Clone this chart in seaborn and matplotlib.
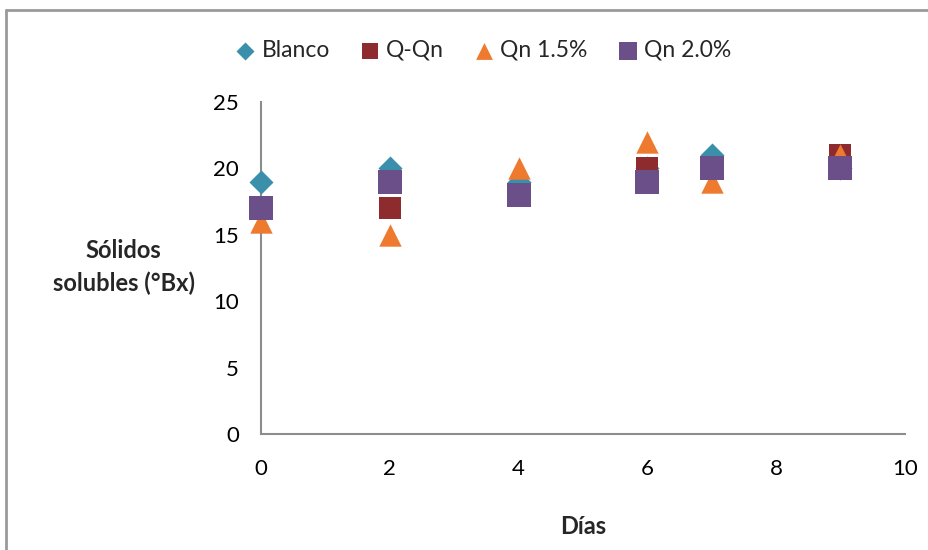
import matplotlib
matplotlib.use("Agg")
import matplotlib.pyplot as plt
from matplotlib.lines import Line2D
import seaborn as sns
import pandas as pd

# Soluble solids (°Bx) measured on each storage day
dias = [0, 2, 4, 6, 7, 9]
blanco = [19, 20, 19, 20, 21, 20]
q_qn = [17, 17, 18, 20, 20, 21]
qn_15 = [16, 15, 20, 22, 19, 21]
qn_20 = [17, 19, 18, 19, 20, 20]

series = [
    ("Blanco", blanco, "D", "#3A8FAA", 150),
    ("Q-Qn", q_qn, "s", "#8E2B2E", 230),
    ("Qn 1.5%", qn_15, "^", "#EE7A30", 260),
    ("Qn 2.0%", qn_20, "s", "#6A4F88", 290),
]

sns.set_theme(style="white")
plt.rcParams["font.family"] = ["Lato", "DejaVu Sans"]

fig = plt.figure(figsize=(9.29, 5.5), dpi=100)
ax = fig.add_axes([0.281, 0.211, 0.693, 0.6035])

for name, vals, marker, color, size in series:
    df = pd.DataFrame({"Días": dias, "Brix": vals})
    sns.scatterplot(data=df, x="Días", y="Brix", marker=marker, color=color,
                    s=size, linewidth=0, ax=ax, label=name, zorder=3,
                    clip_on=False)

ax.set_xlim(0, 10)
ax.set_ylim(0, 25)
ax.set_xticks(range(0, 11, 2))
ax.set_yticks(range(0, 26, 5))
ax.tick_params(axis="both", length=0, labelsize=16, colors="black")
ax.tick_params(axis="y", pad=16)
ax.tick_params(axis="x", pad=18)

for side in ("top", "right"):
    ax.spines[side].set_visible(False)
for side in ("left", "bottom"):
    ax.spines[side].set_color("#8C8C8C")
    ax.spines[side].set_linewidth(1.5)

ax.set_xlabel("Días", fontsize=17, fontweight="bold", labelpad=26)
ax.set_ylabel("")
fig.text(0.133, 0.515, "Sólidos\nsolubles (°Bx)", ha="center", va="center",
         fontsize=17, fontweight="bold", linespacing=1.5)

leg = ax.legend(loc="center", bbox_to_anchor=(0.52, 0.909),
                bbox_transform=fig.transFigure, ncol=4, frameon=False,
                fontsize=16.5, handlelength=0.9, handletextpad=0.25,
                columnspacing=1.3, markerscale=0.75, borderaxespad=0)

# chart area frame
fig.add_artist(Line2D([6 / 929, 6 / 929], [-0.01, 1 - 10 / 550],
                      color="#9A9A9A", linewidth=2))
fig.add_artist(Line2D([6 / 929, 1.01], [1 - 10 / 550, 1 - 10 / 550],
                      color="#9A9A9A", linewidth=2))

fig.savefig("out.png", dpi=100)
